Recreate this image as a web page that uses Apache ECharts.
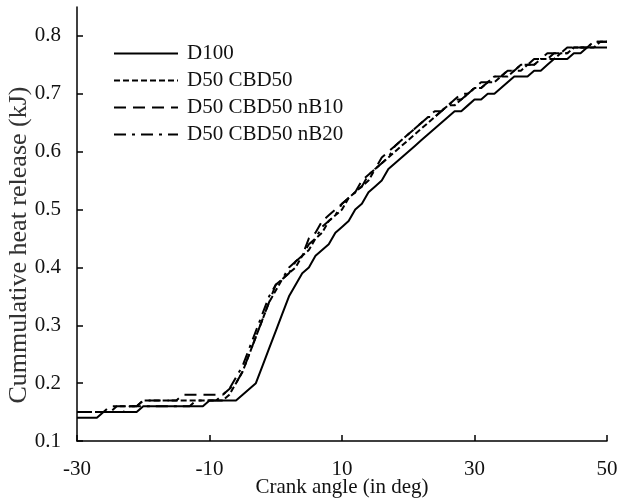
<!DOCTYPE html>
<html>
<head>
<meta charset="utf-8">
<script src="https://cdn.jsdelivr.net/npm/echarts@6/dist/echarts.min.js"></script>
<style>html,body{margin:0;padding:0;background:#fff;}#c{width:628px;height:500px;}</style>
</head>
<body>
<div id="c"></div>
<script>
// Crank angle (deg)
var angles = [-30,-29,-28,-27,-26,-25,-24,-23,-22,-21,
  -20,-19,-18,-17,-16,-15,-14,-13,-12,-11,
  -10,-9,-8,-7,-6,-5,-4,-3,-2,-1,
  0,1,2,3,4,5,6,7,8,9,
  10,11,12,13,14,15,16,17,18,19,
  20,21,22,23,24,25,26,27,28,29,
  30,31,32,33,34,35,36,37,38,39,
  40,41,42,43,44,45,46,47,48,49,
  50];

var seriesNames = ['D100', 'D50 CBD50', 'D50 CBD50 nB10', 'D50 CBD50 nB20'];

var d100 = [0.14,0.14,0.14,0.14,0.15,0.15,0.15,0.15,0.15,0.15,
  0.16,0.16,0.16,0.16,0.16,0.16,0.16,0.16,0.16,0.16,
  0.17,0.17,0.17,0.17,0.17,0.18,0.19,0.20,0.23,0.26,
  0.29,0.32,0.35,0.37,0.39,0.40,0.42,0.43,0.44,0.46,
  0.47,0.48,0.50,0.51,0.53,0.54,0.55,0.57,0.58,0.59,
  0.60,0.61,0.62,0.63,0.64,0.65,0.66,0.67,0.67,0.68,
  0.69,0.69,0.70,0.70,0.71,0.72,0.73,0.73,0.73,0.74,
  0.74,0.75,0.76,0.76,0.76,0.77,0.77,0.78,0.78,0.78,
  0.78];

var d50cbd50 = [0.15,0.15,0.15,0.15,0.15,0.15,0.16,0.16,0.16,0.16,
  0.17,0.17,0.17,0.17,0.17,0.17,0.17,0.17,0.17,0.17,
  0.17,0.17,0.17,0.18,0.20,0.22,0.25,0.28,0.31,0.34,
  0.36,0.38,0.39,0.40,0.42,0.43,0.45,0.46,0.48,0.49,
  0.50,0.52,0.53,0.54,0.55,0.57,0.58,0.59,0.60,0.61,
  0.62,0.63,0.64,0.65,0.66,0.67,0.68,0.68,0.69,0.70,
  0.71,0.71,0.72,0.72,0.73,0.73,0.74,0.74,0.75,0.75,
  0.76,0.76,0.76,0.77,0.77,0.78,0.78,0.78,0.78,0.79,
  0.79];

var d50nb10 = [0.15,0.15,0.15,0.15,0.15,0.16,0.16,0.16,0.16,0.16,
  0.17,0.17,0.17,0.17,0.17,0.17,0.18,0.18,0.18,0.18,
  0.18,0.18,0.18,0.19,0.20,0.22,0.25,0.28,0.31,0.34,
  0.37,0.38,0.39,0.41,0.42,0.45,0.46,0.48,0.49,0.50,
  0.51,0.52,0.53,0.55,0.56,0.57,0.59,0.60,0.61,0.62,
  0.63,0.64,0.65,0.66,0.67,0.67,0.68,0.69,0.70,0.70,
  0.71,0.72,0.72,0.73,0.73,0.74,0.74,0.75,0.75,0.76,
  0.76,0.77,0.77,0.77,0.78,0.78,0.78,0.78,0.79,0.79,
  0.79];

var d50nb20 = [0.15,0.15,0.15,0.15,0.15,0.15,0.15,0.15,0.16,0.16,
  0.16,0.16,0.16,0.16,0.16,0.16,0.16,0.16,0.17,0.17,
  0.17,0.17,0.18,0.19,0.21,0.23,0.26,0.29,0.32,0.35,
  0.37,0.38,0.40,0.41,0.42,0.44,0.45,0.47,0.48,0.49,
  0.51,0.52,0.53,0.54,0.56,0.57,0.58,0.59,0.61,0.62,
  0.63,0.64,0.65,0.66,0.66,0.67,0.68,0.69,0.69,0.70,
  0.71,0.71,0.72,0.73,0.73,0.74,0.74,0.75,0.75,0.75,
  0.76,0.76,0.77,0.77,0.77,0.78,0.78,0.78,0.79,0.79,
  0.79];

var xTicks = [-30, -10, 10, 30, 50];
var yTicks = [0.1, 0.2, 0.3, 0.4, 0.5, 0.6, 0.7, 0.8];

var allValues = [d100, d50cbd50, d50nb10, d50nb20];
var dashes = ['solid', [6, 3], [12, 7], [12, 6, 3, 6]];

function pairs(vals) {
  return angles.map(function (a, i) { return [a, vals[i]]; });
}

var FONT = 'Liberation Serif';
var TXT = '#111';

var chart = echarts.init(document.getElementById('c'), null, {renderer: 'canvas'});
chart.setOption({
  animation: false,
  backgroundColor: '#fff',
  grid: {left: 77, right: 21, top: 7, bottom: 59, containLabel: false, outerBoundsMode: 'none'},
  legend: {
    orient: 'vertical',
    left: 108,
    top: 38,
    itemWidth: 64,
    itemHeight: 14,
    itemGap: 6,
    data: seriesNames,
    itemStyle: {opacity: 0, color: 'rgba(0,0,0,0)', borderColor: 'rgba(0,0,0,0)', borderWidth: 0},
    textStyle: {fontFamily: FONT, fontSize: 21, color: TXT, padding: [0, 0, 0, 4]}
  },
  xAxis: {
    type: 'value',
    min: -30,
    max: 50,
    name: 'Crank angle (in deg)',
    nameLocation: 'middle',
    nameGap: 36,
    nameMoveOverlap: false,
    nameTextStyle: {fontFamily: FONT, fontSize: 21, color: TXT},
    axisLine: {show: true, onZero: false, lineStyle: {color: '#000', width: 1.5}},
    axisTick: {show: true, inside: true, length: 6, customValues: xTicks, lineStyle: {color: '#000', width: 1.5}},
    axisLabel: {customValues: xTicks, margin: 18, fontFamily: FONT, fontSize: 21, color: TXT},
    splitLine: {show: false}
  },
  yAxis: {
    type: 'value',
    min: 0.1,
    max: 0.85,
    name: 'Cummulative heat release (kJ)',
    nameLocation: 'middle',
    nameGap: 45,
    nameMoveOverlap: false,
    nameTextStyle: {fontFamily: FONT, fontSize: 26, color: '#333', padding: [0, 42, 0, 0]},
    axisLine: {show: true, onZero: false, lineStyle: {color: '#000', width: 1.5}},
    axisTick: {show: true, inside: true, length: 6, customValues: yTicks, lineStyle: {color: '#000', width: 1.5}},
    axisLabel: {customValues: yTicks, margin: 16, fontFamily: FONT, fontSize: 21, color: TXT,
      formatter: function (v) { return v.toFixed(1); }},
    splitLine: {show: false}
  },
  series: seriesNames.map(function (n, i) {
    return {
      name: n,
      type: 'line',
      data: pairs(allValues[i]),
      symbol: 'none',
      smooth: false,
      color: '#000',
      lineStyle: {color: '#000', width: 2, type: dashes[i]}
    };
  })
});
</script>
</body>
</html>
